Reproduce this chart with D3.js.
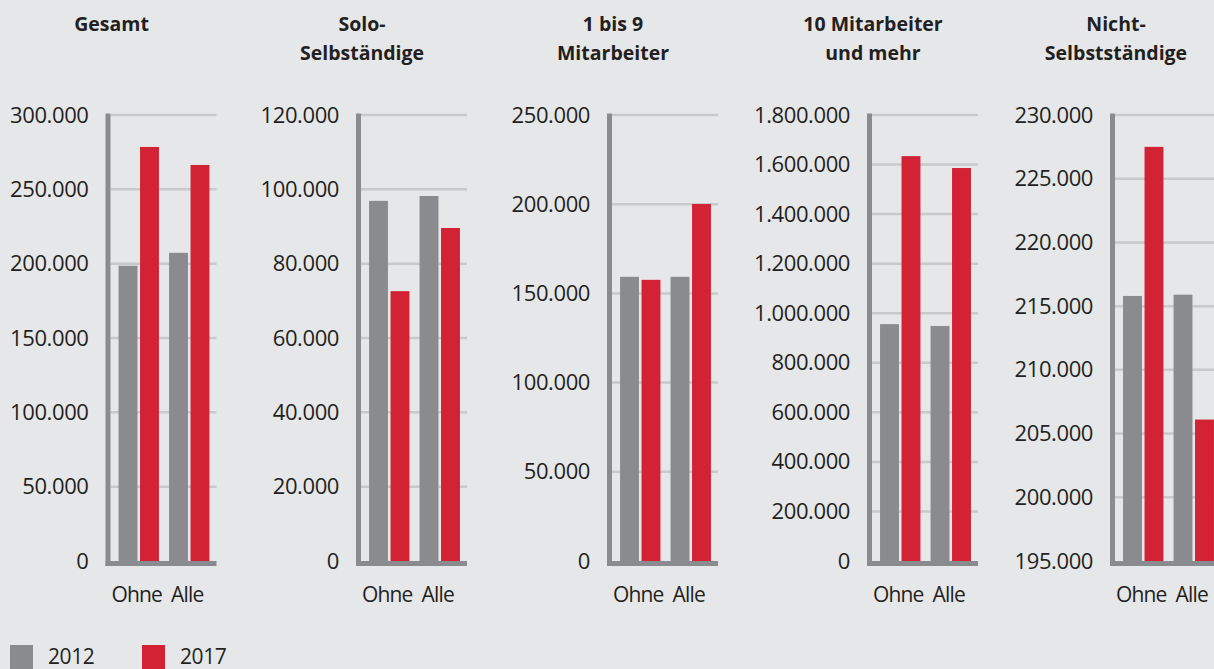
<!DOCTYPE html>
<html>
<head>
<meta charset="utf-8">
<script src="https://cdn.jsdelivr.net/npm/d3@7"></script>
<style>
  body { margin: 0; background: #e6e7e9; overflow: hidden; }
  svg { display: block; font-family: "Open Sans", sans-serif; }
</style>
</head>
<body>
<svg id="chart" width="1214" height="669"></svg>
<script>
// panel titles (line by line)
var titles = [["Gesamt"], ["Solo-", "Selbständige"], ["1 bis 9", "Mitarbeiter"], ["10 Mitarbeiter", "und mehr"], ["Nicht-", "Selbstständige"]];
var categories = ["Ohne", "Alle"];
var years = ["2012", "2017"];

// values per panel: [Ohne, Alle]
var values2012 = [[198600, 207300], [96900, 98200], [159300, 159300], [956000, 948500], [215800, 215900]];
var values2017 = [[278500, 266400], [72600, 89600], [157600, 200100], [1634000, 1586000], [227500, 206100]];

// y domains and tick values per panel
var yMin = [0, 0, 0, 0, 195000];
var yMax = [300000, 120000, 250000, 1800000, 230000];
var yStep = [50000, 20000, 50000, 200000, 5000];

var colors = { "2012": "#8a8b8e", "2017": "#d22234" };

// layout: left edge of each panel's y axis line
var axisX = [105.5, 356, 607, 867, 1110];
var plotW = 111, yTop = 115, yBottom = 561;

var de = d3.formatLocale({ decimal: ",", thousands: ".", grouping: [3], currency: ["", " €"] });
var fmt = de.format(",");

var svg = d3.select("#chart");

titles.forEach(function(t, i) {
	var L = axisX[i];
	var g = svg.append("g");

	var y = d3.scaleLinear().domain([yMin[i], yMax[i]]).range([yBottom, yTop]);
	var ticks = d3.range(yMin[i], yMax[i] + 1, yStep[i]);

	var x = d3.scaleBand().domain(categories).range([L + 8, L + 109]).paddingInner(0.2).paddingOuter(0.1);
	var xs = d3.scaleBand().domain(years).range([0, x.bandwidth()]).paddingInner(0.12);

	//gridlines
	g.selectAll(".grid").data(ticks.slice(1)).enter().append("line")
		.attr("x1", L + 5).attr("x2", L + plotW)
		.attr("y1", function(d) { return y(d); })
		.attr("y2", function(d) { return y(d); })
		.attr("stroke", "#c8c9cb").attr("stroke-width", 2.5);

	//bars
	var rows = categories.map(function(c, j) {
		return { cat: c, vals: [{ year: "2012", v: values2012[i][j] }, { year: "2017", v: values2017[i][j] }] };
	});
	g.selectAll(".grp").data(rows).enter().append("g")
		.attr("transform", function(d) { return "translate(" + x(d.cat) + ",0)"; })
		.selectAll("rect").data(function(d) { return d.vals; }).enter().append("rect")
		.attr("x", function(d) { return xs(d.year); })
		.attr("width", xs.bandwidth())
		.attr("y", function(d) { return y(d.v); })
		.attr("height", function(d) { return yBottom - y(d.v); })
		.attr("fill", function(d) { return colors[d.year]; });

	//axis lines
	g.append("rect").attr("x", L).attr("y", yTop - 1.5).attr("width", 5).attr("height", yBottom + 5 - yTop + 1.5).attr("fill", "#8a8b8e");
	g.append("rect").attr("x", L).attr("y", yBottom).attr("width", plotW).attr("height", 5).attr("fill", "#8a8b8e");

	//y labels
	var yAxis = g.append("g").attr("transform", "translate(" + L + ",0)")
		.call(d3.axisLeft(y).tickValues(ticks).tickFormat(fmt).tickSize(0).tickPadding(17));
	yAxis.select(".domain").remove();
	yAxis.selectAll("text").attr("font-family", "Open Sans").attr("font-size", 22)
		.attr("letter-spacing", -0.4).attr("fill", "#231f20");

	//x labels
	g.selectAll(".xl").data(categories).enter().append("text")
		.attr("x", function(d) { return x(d) + x.bandwidth() / 2 - 2; })
		.attr("y", 602)
		.attr("text-anchor", "middle")
		.attr("font-size", 21).attr("letter-spacing", -0.8).attr("fill", "#231f20")
		.text(function(d) { return d; });

	//title
	g.selectAll(".title").data(t).enter().append("text")
		.attr("x", L + 6)
		.attr("y", function(d, k) { return 31 + k * 29; })
		.attr("text-anchor", "middle")
		.attr("font-size", 19.5).attr("font-weight", "bold").attr("fill", "#231f20")
		.text(function(d) { return d; });
});

//legend
var legend = svg.selectAll(".legend").data(years).enter().append("g")
	.attr("transform", function(d, i) { return "translate(" + (10 + i * 132) + ",645)"; });
legend.append("rect").attr("width", 23).attr("height", 24).attr("fill", function(d) { return colors[d]; });
legend.append("text").attr("x", 38).attr("y", 19).attr("font-size", 21).attr("letter-spacing", -0.4)
	.attr("fill", "#231f20").text(function(d) { return d; });
</script>
</body>
</html>
